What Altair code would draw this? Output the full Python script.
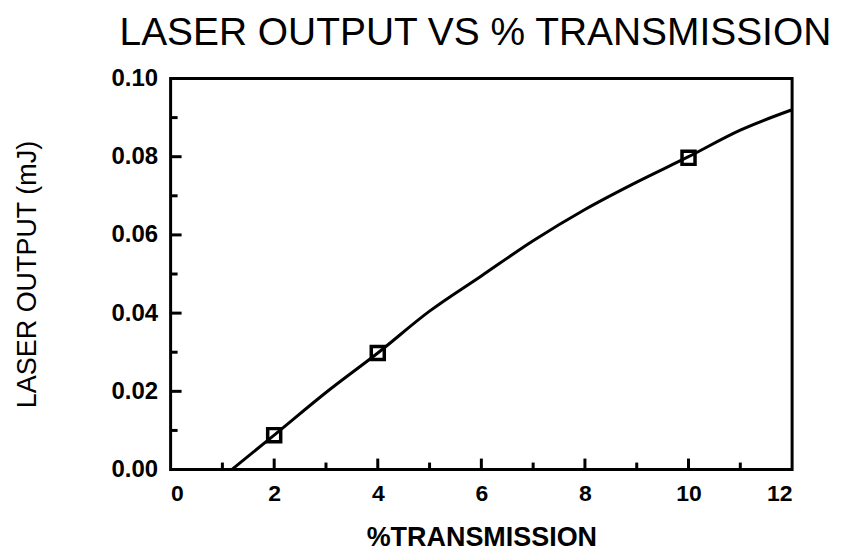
import altair as alt
import pandas as pd

# Curve
curve_x = [1.18, 2, 3, 4, 5, 6, 7, 8, 9, 10, 11, 12]
curve_y = [0.0, 0.0088, 0.0197, 0.0298, 0.0405, 0.0495, 0.0585, 0.0665, 0.0735, 0.0800, 0.0868, 0.0920]

# Measured points
pt_x = [2, 4, 10]
pt_y = [0.0088, 0.0298, 0.0797]

# Tick positions
x_major = [0, 2, 4, 6, 8, 10, 12]
x_minor = [1, 3, 5, 7, 9, 11]
y_major = [0.0, 0.02, 0.04, 0.06, 0.08, 0.10]
y_minor = [0.01, 0.03, 0.05, 0.07, 0.09]

W, H = 623, 392
FONT = "Liberation Sans"

xscale = alt.Scale(domain=[0, 12], nice=False, zero=False)
yscale = alt.Scale(domain=[0, 0.1], nice=False, zero=False)

xaxis = alt.Axis(
    values=x_major, format="d", ticks=False, domain=False, grid=False,
    labelFont=FONT, labelFontSize=23, labelFontWeight="bold", labelColor="black",
    labelPadding=13, title="%TRANSMISSION", titleFont=FONT, titleFontSize=27,
    titleFontWeight="bold", titleColor="black", titlePadding=19,
)
yaxis = alt.Axis(
    values=y_major, format=".2f", ticks=False, domain=False, grid=False,
    labelFont=FONT, labelFontSize=24, labelFontWeight="bold", labelColor="black",
    labelPadding=13, title="LASER OUTPUT (mJ)", titleFont=FONT, titleFontSize=27,
    titleFontWeight="normal", titleColor="black", titlePadding=70,
)

curve_df = pd.DataFrame({"x": curve_x, "y": curve_y})
pts_df = pd.DataFrame({"x": pt_x, "y": pt_y})

line = alt.Chart(curve_df).mark_line(color="black", strokeWidth=3, interpolate="monotone").encode(
    x=alt.X("x:Q", scale=xscale, axis=xaxis),
    y=alt.Y("y:Q", scale=yscale, axis=yaxis),
)

pts = alt.Chart(pts_df).mark_point(shape="square", filled=False, color="black", strokeWidth=3.5, size=170, opacity=1).encode(
    x=alt.X("x:Q", scale=xscale),
    y=alt.Y("y:Q", scale=yscale),
)

xmaj = alt.Chart(pd.DataFrame({"x": x_major[1:-1]})).mark_rule(color="black", strokeWidth=3).encode(
    x=alt.X("x:Q", scale=xscale), y=alt.value(H), y2=alt.value(H - 11))
xmin = alt.Chart(pd.DataFrame({"x": x_minor})).mark_rule(color="black", strokeWidth=3).encode(
    x=alt.X("x:Q", scale=xscale), y=alt.value(H), y2=alt.value(H - 7))
ymaj = alt.Chart(pd.DataFrame({"y": y_major[1:-1]})).mark_rule(color="black", strokeWidth=3).encode(
    y=alt.Y("y:Q", scale=yscale), x=alt.value(0), x2=alt.value(11))
ymin = alt.Chart(pd.DataFrame({"y": y_minor})).mark_rule(color="black", strokeWidth=3).encode(
    y=alt.Y("y:Q", scale=yscale), x=alt.value(0), x2=alt.value(7))

chart = alt.layer(xmaj, xmin, ymaj, ymin, line, pts).properties(
    width=W, height=H, background="white",
    padding={"left": 5, "top": 5, "right": 0, "bottom": 0},
    title=alt.TitleParams("LASER OUTPUT VS % TRANSMISSION", font=FONT, fontSize=39,
                          fontWeight="normal", color="black", anchor="middle",
                          baseline="alphabetic", offset=-17, dx=-6),
).configure_view(stroke="black", strokeWidth=3)

chart.save("out.html", embed_options={"renderer": "svg", "actions": False})
